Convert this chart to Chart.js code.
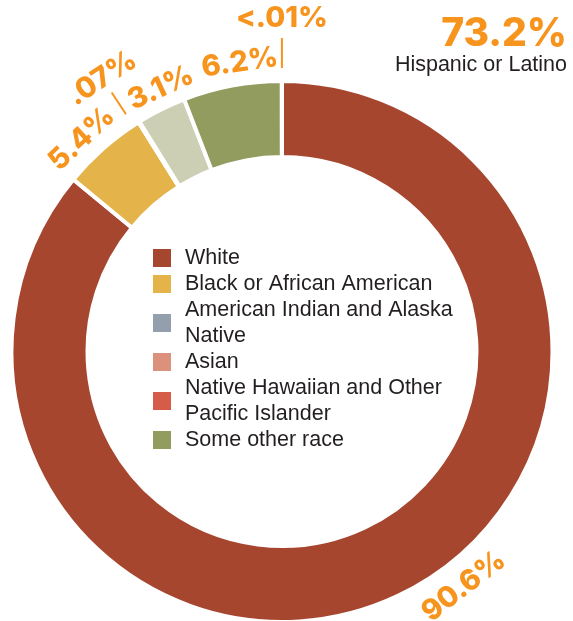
<!DOCTYPE html>
<html>
<head>
<meta charset="utf-8">
<title>Race and ethnicity</title>
<script src="https://cdn.jsdelivr.net/npm/chart.js@4.4.1/dist/chart.umd.min.js"></script>
<style>
  html, body { margin: 0; padding: 0; background: #fff; }
  canvas { display: block; }
</style>
</head>
<body>
<canvas id="raceChart" width="573" height="621"></canvas>
<script>
// categories in the order the key lists them
const categories = ['White', 'Black or African American', 'American Indian and Alaska Native', 'Asian', 'Native Hawaiian and Other Pacific Islander', 'Some other race'];
const shares = [90.6, 5.4, 0.07, 3.1, 0.01, 6.2];
const shareText = ['90.6%', '5.4%', '.07%', '3.1%', '<.01%', '6.2%'];
// the ring runs clockwise from 12 o'clock in this order
const ringOrder = [0, 1, 2, 3, 5, 4];
const hispanicShare = '73.2%';
const hispanicLabel = 'Hispanic or Latino';

const keyColors = ['#a6462f', '#e4b34a', '#939fac', '#db917c', '#d65c4a', '#939c5f'];
const sliceColors = ['#a6462f', '#e4b34a', '#939fac', '#cccfb3', '#d65c4a', '#939c5f'];
const ORANGE = '#f7941e';
const INK = '#231f20';

// orange percentages around the ring, turned along the arc
const ringLabels = {
  id: 'ringLabels',
  afterDatasetsDraw(chart, args, opts) {
    const ctx = chart.ctx;
    const arcs = chart.getDatasetMeta(0).data;
    ctx.save();
    ctx.font = opts.font;
    ctx.fillStyle = ORANGE;
    ctx.strokeStyle = ORANGE;
    ctx.lineWidth = 2;
    ctx.textAlign = 'center';
    ctx.textBaseline = 'middle';
    arcs.forEach((arc, i) => {
      const k = ringOrder[i];
      const p = arc.getProps(['x', 'y', 'startAngle', 'endAngle'], true);
      const a = (p.startAngle + p.endAngle) / 2 + (opts.shift[k] || 0) * Math.PI / 180;
      const r = opts.radius[k];
      const rot = Math.sin(a) > 0 ? a - Math.PI / 2 : a + Math.PI / 2;
      ctx.save();
      ctx.translate(p.x + r * Math.cos(a), p.y + r * Math.sin(a));
      ctx.rotate(rot);
      ctx.fillText(shareText[k], 0, 0);
      ctx.restore();
      const lead = opts.leaders[k];
      if (lead) {
        ctx.beginPath();
        ctx.moveTo(p.x + lead[0] * Math.cos(a), p.y + lead[0] * Math.sin(a));
        ctx.lineTo(p.x + lead[1] * Math.cos(a), p.y + lead[1] * Math.sin(a));
        ctx.stroke();
      }
    });

    // Hispanic note, top right
    const right = chart.width - 6;
    ctx.textAlign = 'right';
    ctx.textBaseline = 'alphabetic';
    ctx.font = opts.bigFont;
    ctx.fillText(hispanicShare, right, 46);
    ctx.font = opts.noteFont;
    ctx.fillStyle = INK;
    ctx.fillText(hispanicLabel, right, 71);
    ctx.restore();
  }
};

function wrapText(ctx, text, maxWidth) {
  const words = text.split(' ');
  const lines = [];
  let line = '';
  words.forEach(w => {
    const test = line ? line + ' ' + w : w;
    if (line && ctx.measureText(test).width > maxWidth) {
      lines.push(line);
      line = w;
    } else {
      line = test;
    }
  });
  lines.push(line);
  return lines;
}

// key drawn inside the hole of the ring
const holeKey = {
  id: 'holeKey',
  afterDraw(chart, args, opts) {
    const ctx = chart.ctx;
    const arc = chart.getDatasetMeta(0).data[0];
    const cx = arc.x, cy = arc.y;
    ctx.save();
    ctx.font = opts.font;
    ctx.textAlign = 'left';
    ctx.textBaseline = 'middle';
    const rows = categories.map(c => wrapText(ctx, c, opts.maxWidth));
    const total = rows.reduce((n, r) => n + r.length, 0);
    let y = cy - (total - 1) * opts.lineHeight / 2 + opts.nudge;
    rows.forEach((lines, k) => {
      const mid = y + (lines.length - 1) * opts.lineHeight / 2;
      ctx.fillStyle = keyColors[k];
      ctx.fillRect(cx + opts.boxX, mid - opts.box / 2, opts.box, opts.box);
      ctx.fillStyle = INK;
      lines.forEach((ln, j) => ctx.fillText(ln, cx + opts.textX, y + j * opts.lineHeight));
      y += lines.length * opts.lineHeight;
    });
    ctx.restore();
  }
};

const ctx = document.getElementById('raceChart').getContext('2d');

new Chart(ctx, {
  type: 'doughnut',
  data: {
    labels: ringOrder.map(k => categories[k]),
    datasets: [{
      data: ringOrder.map(k => shares[k]),
      backgroundColor: ringOrder.map(k => sliceColors[k]),
      borderColor: '#ffffff',
      borderWidth: 4,
      hoverOffset: 0
    }]
  },
  options: {
    responsive: false,
    animation: false,
    radius: 270.5,
    cutout: '71.9%',
    layout: { padding: { left: 12, right: 21, top: 82, bottom: 0 } },
    events: [],
    plugins: {
      legend: { display: false },
      tooltip: { enabled: false },
      ringLabels: {
        font: '800 29px Inter',
        bigFont: '800 39px Inter',
        noteFont: '21.5px "Liberation Sans"',
        radius: [297, 292, 327, 290, 333, 292],
        shift: [-12.5, -2, -1.4, 1.8, 0, 2.3],
        leaders: { 2: [284, 310], 4: [283.5, 313.5] }
      },
      holeKey: {
        font: '21.5px "Liberation Sans"',
        maxWidth: 285,
        lineHeight: 26,
        nudge: -2.5,
        box: 18,
        boxX: -129,
        textX: -97
      }
    }
  },
  plugins: [ringLabels, holeKey]
});
</script>
</body>
</html>
